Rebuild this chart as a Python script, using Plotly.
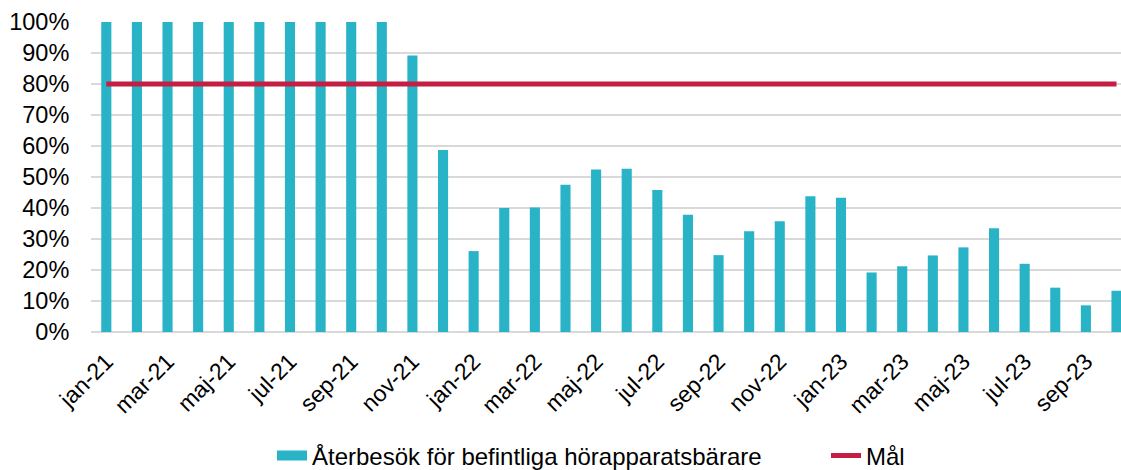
import plotly.graph_objects as go

months = ["jan-21", "feb-21", "mar-21", "apr-21", "maj-21", "jun-21", "jul-21", "aug-21",
          "sep-21", "okt-21", "nov-21", "dec-21", "jan-22", "feb-22", "mar-22", "apr-22",
          "maj-22", "jun-22", "jul-22", "aug-22", "sep-22", "okt-22", "nov-22", "dec-22",
          "jan-23", "feb-23", "mar-23", "apr-23", "maj-23", "jun-23", "jul-23", "aug-23",
          "sep-23", "okt-23"]
revisits = [1.00, 1.00, 1.00, 1.00, 1.00, 1.00, 1.00, 1.00, 1.00, 1.00, 0.892, 0.587,
            0.261, 0.400, 0.402, 0.475, 0.524, 0.527, 0.458, 0.378, 0.248, 0.325,
            0.357, 0.438, 0.433, 0.192, 0.212, 0.247, 0.273, 0.335, 0.220, 0.143,
            0.086, 0.133]
goal = [0.80] * len(months)
y_ticks = [0, 0.1, 0.2, 0.3, 0.4, 0.5, 0.6, 0.7, 0.8, 0.9, 1.0]

xs = list(range(len(months)))
font = "Liberation Sans, Arial, sans-serif"
bar_color = "#29B3C7"
goal_color = "#C41E45"
bar_name = "Återbesök för befintliga hörapparatsbärare"

fig = go.Figure()
fig.add_trace(go.Bar(
    x=xs, y=revisits, name=bar_name, legendgroup="bars", showlegend=False,
    marker=dict(color=bar_color, line=dict(width=0)), width=0.33,
))
# legend proxy giving the wide rectangular swatch of the bar series
fig.add_trace(go.Scatter(
    x=[None], y=[None], name=bar_name, legendgroup="bars", mode="lines",
    line=dict(color=bar_color, width=13), legendwidth=509,
))
fig.add_trace(go.Scatter(
    x=xs, y=goal, name="Mål", mode="lines",
    line=dict(color=goal_color, width=5),
))

fig.update_layout(
    width=1121, height=470,
    margin=dict(l=91, r=0, t=22, b=138),
    paper_bgcolor="white", plot_bgcolor="white",
    font=dict(family=font, size=23, color="#000000"),
    showlegend=True,
    legend=dict(orientation="h", xref="container", yref="container",
                x=272 / 1121, xanchor="left", y=14 / 470, yanchor="middle",
                font=dict(size=24), traceorder="normal"),
    bargap=0.67,
)
fig.update_xaxes(
    range=[-0.5, 33.147], automargin=False,
    tickmode="array", tickvals=xs[::2], ticktext=months[::2],
    tickangle=-45, showgrid=False, zeroline=False, showline=False,
    ticks="outside", ticklen=6, tickcolor="rgba(0,0,0,0)",
    tickfont=dict(size=23),
)
fig.update_yaxes(
    range=[0, 1.0], automargin=False, tickmode="array", tickvals=y_ticks, tickformat=".0%",
    showgrid=True, gridcolor="#D9D9D9", gridwidth=1.5,
    zeroline=True, zerolinecolor="#D9D9D9", zerolinewidth=1.5,
    showline=False, ticks="outside", ticklen=16, tickcolor="rgba(0,0,0,0)",
    tickfont=dict(size=23.5),
)

fig.write_html("out.html", config={"displayModeBar": False},
               post_script="document.body.style.margin='0';document.body.style.overflow='hidden';")
